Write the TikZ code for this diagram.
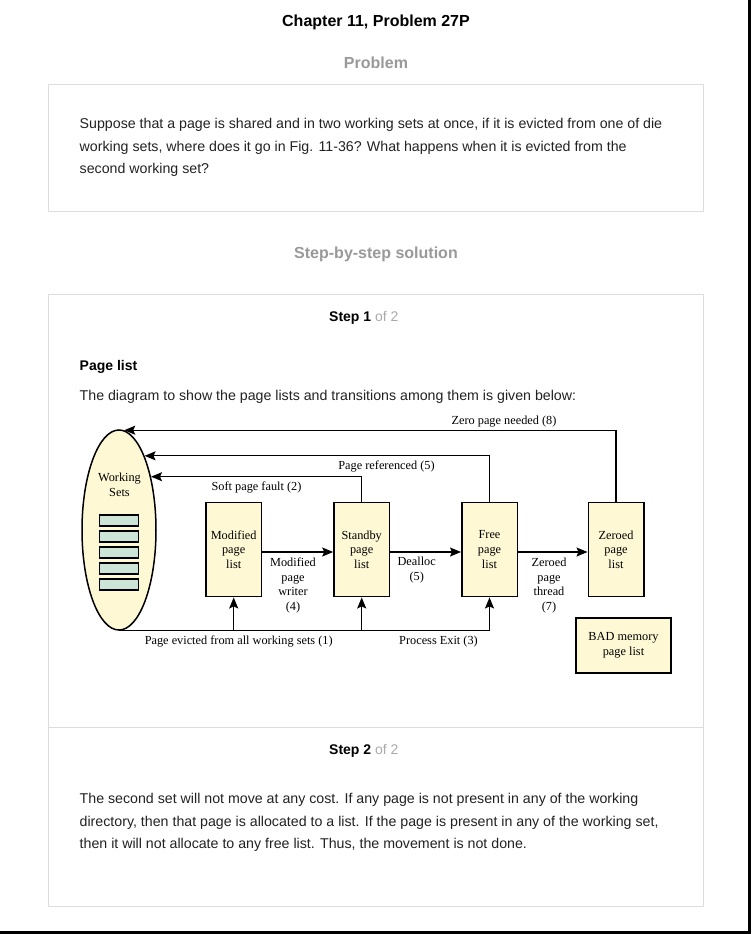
\documentclass[tikz,border=0pt]{standalone}
\usepackage{fontspec}
\setmainfont{Liberation Sans}
\newfontfamily\diagfont{Liberation Serif}
\usetikzlibrary{arrows.meta,shapes.geometric}

\definecolor{framegray}{RGB}{221,221,221}
\definecolor{headgray}{RGB}{153,153,153}
\definecolor{ofgray}{RGB}{170,170,170}
\definecolor{bodyink}{RGB}{34,34,34}
\definecolor{listfill}{RGB}{254,249,212}
\definecolor{slotfill}{RGB}{204,229,214}

\begin{document}
\begin{tikzpicture}[x=1pt,y=-1pt,
  frame/.style={draw=framegray,line width=1pt},
  pagehead/.style={anchor=base,inner sep=0,font=\fontsize{16}{19}\selectfont\bfseries},
  bodyline/.style={anchor=base west,inner sep=0,text=bodyink,font=\fontsize{14.2}{17}\selectfont},
  stephead/.style={anchor=base west,inner sep=0,font=\fontsize{14}{17}\selectfont},
  listbox/.style={draw,line width=1.5pt,fill=listfill,minimum width=55.5pt,minimum height=94pt,
    inner sep=0,align=center,font=\diagfont\fontsize{12.3}{14.7}\selectfont},
  slot/.style={draw,line width=1.2pt,fill=slotfill,minimum width=39pt,minimum height=11pt,inner sep=0},
  lbl/.style={anchor=base,inner sep=0,align=center,font=\diagfont\fontsize{12.3}{14.7}\selectfont},
  conn/.style={line width=1.2pt},
  arr/.style={conn,-{Stealth[length=11pt,width=9pt,inset=2pt]}}]

\useasboundingbox (0,0) rectangle (752,934);
\fill[white] (0,0) rectangle (752,934);

% page edge
\draw[line width=2.5pt] (749.5,0) -- (749.5,932.5) -- (0,932.5);

% headings
\node[pagehead] (title) at (376,26.5) {Chapter 11, Problem 27P};
\node[pagehead,text=headgray] (probhead) at (376,68.5) {Problem};

% problem statement
\draw[frame] (48,84) rectangle (703,211);
\node[bodyline] (p1) at (79.5,128.5) {Suppose that a page is shared and in two working sets at once, if it is evicted from one of die};
\node[bodyline] (p2) at (79.5,151) {working sets, where does it go in Fig. 11-36? What happens when it is evicted from the};
\node[bodyline] (p3) at (79.5,173.5) {second working set?};

\node[pagehead,text=headgray] (solhead) at (376,258.5) {Step-by-step solution};

% solution frame
\draw[frame] (48,294.5) rectangle (703,906);
\draw[frame] (48,727) -- (703,727);

\node[stephead] (s1) at (329,321) {\textbf{Step 1} \textcolor{ofgray}{of 2}};
\node[stephead] (plhead) at (79.5,370) {\textbf{Page list}};
\node[bodyline] (intro) at (79.5,400) {The diagram to show the page lists and transitions among them is given below:};

% ---- page list diagram ----
\node[ellipse,draw,line width=1.5pt,fill=listfill,minimum width=74pt,minimum height=200pt,inner sep=0] (ws) at (119,530) {};
% multi-line labels are placed by the baseline of their last line
\node[lbl] (wslabel) at (119.5,496) {Working\\Sets};
\node[slot] (slotA) at (119,520.5) {};
\node[slot] (slotB) at (119,536.5) {};
\node[slot] (slotC) at (119,552.5) {};
\node[slot] (slotD) at (119,568.5) {};
\node[slot] (slotE) at (119,584.5) {};

\node[listbox] (modified) at (233.7,549.7) {Modified\\page\\list};
\node[listbox] (standby) at (361.7,549.7) {Standby\\page\\list};
\node[listbox] (free) at (489.5,549.7) {Free\\page\\list};
\node[listbox] (zeroed) at (616,549.7) {Zeroed\\page\\list};
\node[listbox,minimum width=95pt,minimum height=55pt] (bad) at (623.5,645.5) {BAD memory\\page list};

% transitions between lists
\draw[arr] (modified.east |- 0,552) -- (standby.west |- 0,552);
\draw[arr] (standby.east |- 0,552) -- (free.west |- 0,552);
\draw[arr] (free.east |- 0,552) -- (zeroed.west |- 0,552);
\node[lbl] (writer) at (293,610.5) {Modified\\page\\writer\\(4)};
\node[lbl] (dealloc) at (416.7,580) {Dealloc\\(5)};
\node[lbl] (zthread) at (549,610.5) {Zeroed\\page\\thread\\(7)};

% back to the working sets
\draw[arr] (standby.north) |- (ws.59.4);
\draw[arr] (free.north) |- (ws.71.3);
\draw[arr] (zeroed.north) |- (ws.87.1);
\node[lbl] (softfault) at (256.5,490) {Soft page fault (2)};
\node[lbl] (pageref) at (386.5,469) {Page referenced (5)};
\node[lbl] (zeroneed) at (504,424) {Zero page needed (8)};

% eviction and process exit
\draw[conn] (ws.south) -- (free.south |- ws.south);
\draw[arr] (modified.south |- ws.south) -- (modified.south);
\draw[arr] (standby.south |- ws.south) -- (standby.south);
\draw[arr] (free.south |- ws.south) -- (free.south);
\node[lbl] (evicted) at (238.7,644) {Page evicted from all working sets (1)};
\node[lbl] (pexit) at (438.5,644) {Process Exit (3)};

% step 2
\node[stephead] (s2) at (329,754) {\textbf{Step 2} \textcolor{ofgray}{of 2}};
\node[bodyline] (q1) at (79.5,803.5) {The second set will not move at any cost. If any page is not present in any of the working};
\node[bodyline] (q2) at (79.5,826) {directory, then that page is allocated to a list. If the page is present in any of the working set,};
\node[bodyline] (q3) at (79.5,848.5) {then it will not allocate to any free list. Thus, the movement is not done.};
\end{tikzpicture}
\end{document}
